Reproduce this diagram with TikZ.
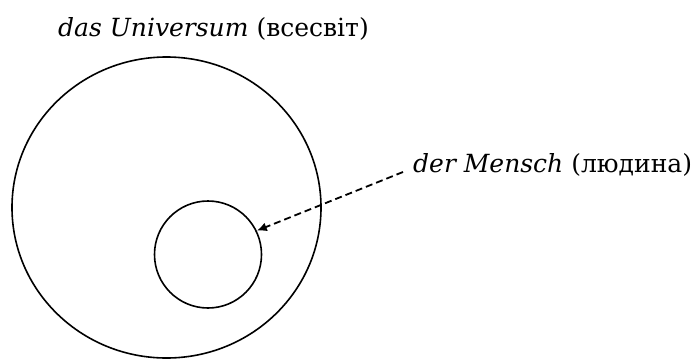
\documentclass[tikz,border=0pt]{standalone}
\usepackage{fontspec}
\setmainfont{DejaVu Serif}
\usetikzlibrary{shapes.geometric,arrows.meta,positioning}

\begin{document}
\begin{tikzpicture}[
  x=1pt, y=1pt,
  ring/.style={draw, line width=1.6pt, inner sep=0pt},
  lab/.style={anchor=base west, inner sep=0pt, font=\fontsize{25}{28}\selectfont},
  ptr/.style={draw, line width=1.8pt, dash pattern=on 7pt off 4pt, -{Latex[length=10pt,width=9pt]}}
]
\useasboundingbox (0,0) rectangle (698,360);
\node[ring, ellipse, minimum width=309pt, minimum height=301pt] (univ) at (166.5,152.5) {};
\node[ring, circle, minimum size=107pt] (mensch) at (208,105.5) {};
\node[lab] (luniv) at (58,324) {\textit{das Universum} (всесвіт)};
\node[lab] (lmensch) at (413,188) {\textit{der Mensch} (людина)};

\draw[ptr] ([shift={(-10,0)}]lmensch.base west) -- (mensch.26);
\end{tikzpicture}
\end{document}
